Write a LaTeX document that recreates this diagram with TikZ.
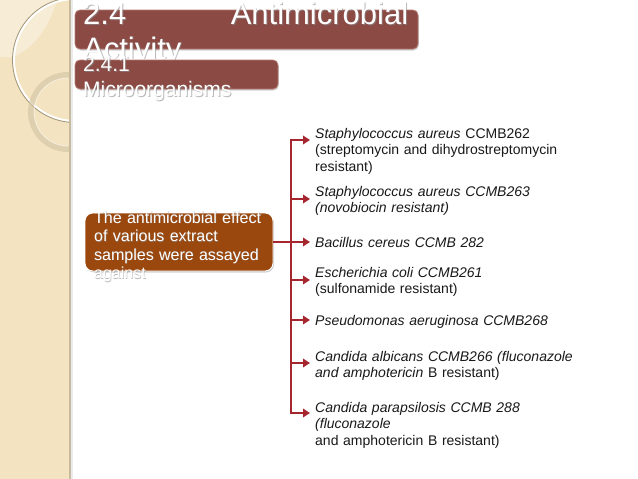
\documentclass[tikz,border=0pt]{standalone}
\usepackage{fontspec}
\setmainfont{Liberation Sans}
\usetikzlibrary{arrows.meta,positioning,shadows}

\definecolor{stripbeige}{RGB}{243,227,192}
\definecolor{stripedge}{RGB}{200,186,156}
\definecolor{ringgray}{RGB}{160,148,122}
\definecolor{ringtan}{RGB}{214,200,168}
\definecolor{titlered}{RGB}{139,74,68}
\definecolor{titleedge}{RGB}{178,122,112}
\definecolor{srcbrown}{RGB}{155,72,14}
\definecolor{linkred}{RGB}{166,38,48}

\tikzset{
  titlebox/.style={fill=titlered, draw=titleedge, line width=0.8pt, rounded corners=5pt, inner sep=0pt,
    drop shadow={opacity=0.35, shadow xshift=0.8pt, shadow yshift=-1.5pt}},
  srcbox/.style={fill=srcbrown, draw=white, line width=0.8pt, rounded corners=8pt, inner sep=0pt,
    drop shadow={opacity=0.35, shadow xshift=1pt, shadow yshift=-1.5pt}},
  whitetext/.style={text=white, inner sep=0pt, align=left},
  shadetext/.style={text=black!45, inner sep=0pt, align=left, opacity=0.6},
  item/.style={inner sep=0pt, align=left, text width=300pt, text=black!90,
    font=\fontsize{14}{16.7}\selectfont},
  link/.style={draw=linkred, line width=2.6pt},
  tip/.style={-{Triangle[length=7pt,width=8.5pt]}}
}

\newcommand{\sectitle}{\hbox to 325pt{2.4\hfill Antimicrobial}\\Activity}
\newcommand{\subtitle}{2.4.1\\Microorganisms}
\newcommand{\srclabel}{The antimicrobial effect\\of various extract\\samples were assayed\\against}

\begin{document}
\begin{tikzpicture}[x=1pt,y=-1pt,>=Stealth]
    \useasboundingbox (0,0) rectangle (638,479);
    \fill[white] (0,0) rectangle (638,479);

    % left strip with rings
    \fill[stripbeige] (0,0) rectangle (70,479);
    \begin{scope}
        \clip (0,0) rectangle (70,479);
        \fill[white, opacity=0.35] (0,0) -- (57,0) .. controls (48,30) and (32,50) .. (12,57) -- (0,57) -- cycle;
        \draw[white, line width=2pt] (75,60) circle (61);
        \draw[ringgray, line width=0.8pt] (75,60) circle (62.5);
        \draw[ringtan, line width=6pt, opacity=0.7] (68,112) circle (37);
        \draw[white, line width=0.8pt, opacity=0.6] (68,112) circle (34);
    \end{scope}
    \fill[black, opacity=0.08] (70,0) rectangle (73,479);
    \draw[stripedge, line width=1.2pt] (70,0) -- (70,479);

    % headings
    \node[titlebox, minimum width=343pt, minimum height=39pt] (sec) at (246.5,29.5) {};
    \node[shadetext, anchor=base west, text width=330pt, font=\fontsize{31}{35}\selectfont] (secshade) at (84,25) {\sectitle};
    \node[whitetext, anchor=base west, text width=330pt, font=\fontsize{31}{35}\selectfont] (sectxt) at (83,24) {\sectitle};

    \node[titlebox, minimum width=203pt, minimum height=29pt] (sub) at (176.5,74.5) {};
    \node[shadetext, anchor=base west, text width=200pt, font=\fontsize{21}{25}\selectfont] (subshade) at (84,72) {\subtitle};
    \node[whitetext, anchor=base west, text width=200pt, font=\fontsize{21}{25}\selectfont] (subtxt) at (83,71) {\subtitle};

    % source box
    \node[srcbox, minimum width=188pt, minimum height=58pt] (src) at (179,242) {};
    \node[shadetext, anchor=base west, text width=180pt, font=\fontsize{16}{18.5}\selectfont] (srcshade) at (94.5,223.5) {\srclabel};
    \node[whitetext, anchor=base west, text width=180pt, font=\fontsize{16}{18.5}\selectfont] (srctxt) at (94,223) {\srclabel};

    % targets
    \node[item, anchor=base west] (s1) at (315,138) {\textit{Staphylococcus aureus} CCMB262\\(streptomycin and dihydrostreptomycin\\resistant)};
    \node[item, anchor=base west] (s2) at (315,196) {\textit{Staphylococcus aureus CCMB263}\\\textit{(novobiocin resistant)}};
    \node[item, anchor=base west] (s3) at (315,247) {\textit{Bacillus cereus CCMB 282}};
    \node[item, anchor=base west] (s4) at (315,277) {\textit{Escherichia coli CCMB261}\\(sulfonamide resistant)};
    \node[item, anchor=base west] (s5) at (315,325) {\textit{Pseudomonas aeruginosa CCMB268}};
    \node[item, anchor=base west] (s6) at (315,361) {\textit{Candida albicans CCMB266 (fluconazole}\\\textit{and amphotericin} B resistant)};
    \node[item, anchor=base west] (s7) at (315,412) {\textit{Candida parapsilosis CCMB 288}\\\textit{(fluconazole}\\and amphotericin B resistant)};

    % connectors
    \coordinate (junc) at (291,242);
    \draw[link] (src.east) -- (junc);
    \foreach \y [count=\i] in {140,199,242,280,320,363,413} {
        \coordinate (t\i) at (310,\y);
        \draw[link, tip] (junc) |- (t\i);
    }
\end{tikzpicture}
\end{document}
